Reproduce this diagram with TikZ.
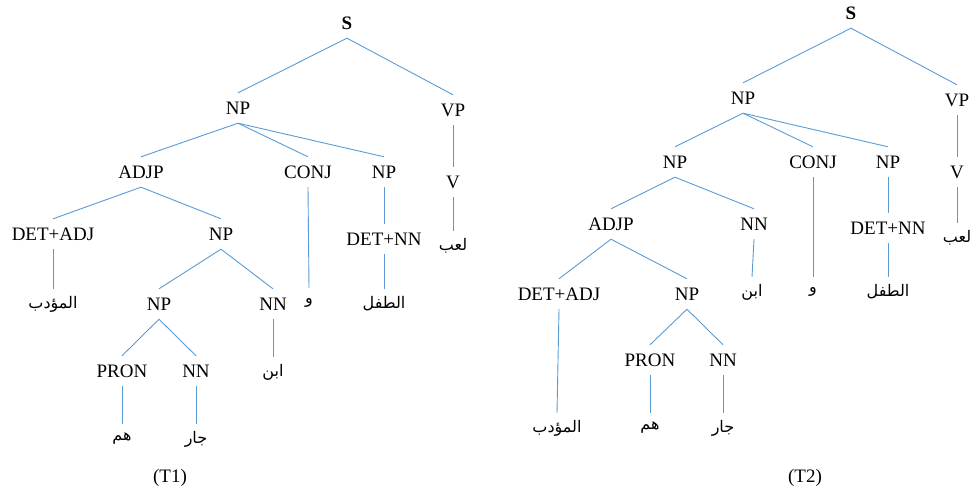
\documentclass[tikz,border=0pt]{standalone}
\usepackage{fontspec}
\setmainfont{Liberation Serif}
\newfontfamily\arabicfont[Script=Arabic]{DejaVu Sans}
\TeXXeTstate=1
\newcommand{\artxt}[1]{{\arabicfont\fontsize{16}{19}\selectfont\beginR #1\endR}}
\definecolor{edgeblue}{HTML}{5B9BD5}
\tikzset{
  lbl/.style={font=\fontsize{19}{22}\selectfont, inner sep=0pt, minimum height=30pt},
  leaf/.style={inner sep=0pt, minimum height=30pt},
  br/.style={draw=edgeblue, line width=0.9pt}
}
\begin{document}
\begin{tikzpicture}[x=1pt,y=-1pt]
\path[use as bounding box, fill=white] (0,0) rectangle (971,488);

% ---- first tree
\node[lbl, font=\fontsize{19}{22}\selectfont\bfseries] (aS) at (347,23) {S};
\node[lbl] (aNP) at (238,108) {NP};
\node[lbl] (aVP) at (453,110) {VP};
\node[lbl] (aADJP) at (141,172) {ADJP};
\node[lbl] (aCONJ) at (308,172) {CONJ};
\node[lbl] (aNPb) at (384,172) {NP};
\node[lbl] (aV) at (453,182) {V};
\node[lbl] (aDETADJ) at (53,234) {DET+ADJ};
\node[lbl] (aNPc) at (221,234) {NP};
\node[lbl] (aDETNN) at (384,239) {DET+NN};
\node[leaf] (aLaeb) at (453,246) {\artxt{لعب}};
\node[leaf] (aMuaddib) at (53,304) {\artxt{المؤدب}};
\node[leaf] (aWa) at (309,303) {\artxt{و}};
\node[leaf] (aTifl) at (384,304) {\artxt{الطفل}};
\node[lbl] (aNPd) at (159,304) {NP};
\node[lbl] (aNN) at (273,304) {NN};
\node[lbl] (aPRON) at (122,371) {PRON};
\node[lbl] (aNNb) at (196,371) {NN};
\node[leaf] (aIbn) at (273,372) {\artxt{ابن}};
\node[leaf] (aHum) at (122,439) {\artxt{هم}};
\node[leaf] (aJar) at (196,439) {\artxt{جار}};
\node[lbl] (aCap) at (170,478) {(T1)};

\draw[br] (aS.south) -- (aNP.north);
\draw[br] (aS.south) -- (aVP.north);
\draw[br] (aNP.south) -- (aADJP.north);
\draw[br] (aNP.south) -- (aCONJ.north);
\draw[br] (aNP.south) -- (aNPb.north);
\draw[br] (aVP.south) -- (aV.north);
\draw[br] (aV.south) -- (aLaeb.north);
\draw[br] (aADJP.south) -- (aDETADJ.north);
\draw[br] (aADJP.south) -- (aNPc.north);
\draw[br] (aCONJ.south) -- (aWa.north);
\draw[br] (aNPb.south) -- (aDETNN.north);
\draw[br] (aDETNN.south) -- (aTifl.north);
\draw[br] (aDETADJ.south) -- (aMuaddib.north);
\draw[br] (aNPc.south) -- (aNPd.north);
\draw[br] (aNPc.south) -- (aNN.north);
\draw[br] (aNPd.south) -- (aPRON.north);
\draw[br] (aNPd.south) -- (aNNb.north);
\draw[br] (aNN.south) -- (aIbn.north);
\draw[br] (aPRON.south) -- (aHum.north);
\draw[br] (aNNb.south) -- (aJar.north);

% ---- second tree
\node[lbl, font=\fontsize{19}{22}\selectfont\bfseries] (bS) at (851,13) {S};
\node[lbl] (bNP) at (743,98) {NP};
\node[lbl] (bVP) at (957,100) {VP};
\node[lbl] (bNPa) at (675,162) {NP};
\node[lbl] (bCONJ) at (813,162) {CONJ};
\node[lbl] (bNPb) at (888,162) {NP};
\node[lbl] (bV) at (957,172) {V};
\node[lbl] (bADJP) at (611,224) {ADJP};
\node[lbl] (bNN) at (754,224) {NN};
\node[lbl] (bDETNN) at (888,228) {DET+NN};
\node[leaf] (bLaeb) at (957,238) {\artxt{لعب}};
\node[leaf] (bIbn) at (752,292) {\artxt{ابن}};
\node[leaf] (bWa) at (813,292) {\artxt{و}};
\node[leaf] (bTifl) at (888,292) {\artxt{الطفل}};
\node[lbl] (bDETADJ) at (559,294) {DET+ADJ};
\node[lbl] (bNPc) at (687,294) {NP};
\node[lbl] (bPRON) at (650,360) {PRON};
\node[lbl] (bNNb) at (723,360) {NN};
\node[leaf] (bMuaddib) at (557,428) {\artxt{المؤدب}};
\node[leaf] (bHum) at (650,428) {\artxt{هم}};
\node[leaf] (bJar) at (723,428) {\artxt{جار}};
\node[lbl] (bCap) at (805,478) {(T2)};

\draw[br] (bS.south) -- (bNP.north);
\draw[br] (bS.south) -- (bVP.north);
\draw[br] (bNP.south) -- (bNPa.north);
\draw[br] (bNP.south) -- (bCONJ.north);
\draw[br] (bNP.south) -- (bNPb.north);
\draw[br] (bVP.south) -- (bV.north);
\draw[br] (bV.south) -- (bLaeb.north);
\draw[br] (bNPa.south) -- (bADJP.north);
\draw[br] (bNPa.south) -- (bNN.north);
\draw[br] (bNN.south) -- (bIbn.north);
\draw[br] (bCONJ.south) -- (bWa.north);
\draw[br] (bNPb.south) -- (bDETNN.north);
\draw[br] (bDETNN.south) -- (bTifl.north);
\draw[br] (bADJP.south) -- (bDETADJ.north);
\draw[br] (bADJP.south) -- (bNPc.north);
\draw[br] (bDETADJ.south) -- (bMuaddib.north);
\draw[br] (bNPc.south) -- (bPRON.north);
\draw[br] (bNPc.south) -- (bNNb.north);
\draw[br] (bPRON.south) -- (bHum.north);
\draw[br] (bNNb.south) -- (bJar.north);
\end{tikzpicture}
\end{document}
